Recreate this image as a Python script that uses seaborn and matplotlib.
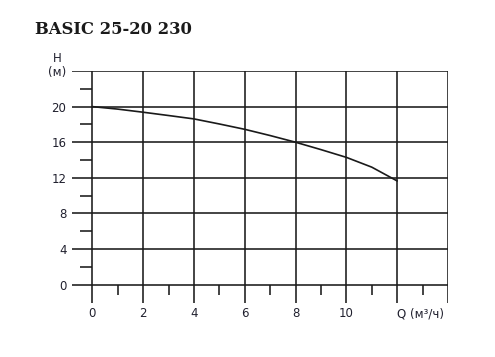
import matplotlib
matplotlib.use("Agg")
import matplotlib.pyplot as plt
import seaborn as sns
import pandas as pd

# Data
flow_q = [0, 1, 2, 3, 4, 5, 6, 7, 8, 9, 10, 11, 12]
head_h = [20, 19.72, 19.37, 19.0, 18.62, 18.05, 17.45, 16.75, 16.0, 15.17, 14.3, 13.2, 11.65]
x_major = [0, 2, 4, 6, 8, 10, 12, 14]
x_labels = ["0", "2", "4", "6", "8", "10", "", ""]
y_major = [0, 4, 8, 12, 16, 20, 24]
y_labels = ["0", "4", "8", "12", "16", "20", "(м)"]
x_minor = [1, 3, 5, 7, 9, 11, 13]
y_minor = [2, 6, 10, 14, 18, 22]
title = "BASIC 25-20 230"
x_unit = "Q (м³/ч)"
y_name = "H"

sns.set_style("white")
plt.rcParams["font.family"] = ["DejaVu Sans"]

line_col = "#1a1a1a"
text_col = "#20202e"
xpad = 3.5

fig = plt.figure(figsize=(4.95, 3.57), dpi=100)
ax = fig.add_axes([72 / 495, 1 - 302.5 / 357, (448 - 72) / 495, (302.5 - 71) / 357])

df = pd.DataFrame({"Q": flow_q, "H": head_h})
sns.lineplot(data=df, x="Q", y="H", ax=ax, color=line_col, linewidth=1.2, zorder=5)

ax.set_xlim(-0.8, 14)
ax.set_ylim(-2, 24)
ax.set_xticks(x_major)
ax.set_xticklabels(x_labels)
ax.set_yticks(y_major)
ax.set_yticklabels(y_labels)
ax.tick_params(axis="both", length=0, labelsize=8.5, colors=text_col)
ax.tick_params(axis="x", pad=xpad)
ax.tick_params(axis="y", pad=4)
ax.grid(True, color=line_col, linewidth=1.15)
ax.set_axisbelow(True)
for s in ax.spines.values():
    s.set_visible(False)
ax.set_xlabel("")
ax.set_ylabel("")

# minor tick marks at the zero axes
ax.hlines(y_minor, -0.47, 0, color=line_col, linewidth=1.15)
ax.vlines(x_minor, -1.16, 0, color=line_col, linewidth=1.15)

ax.annotate(x_unit, xy=(12, -2), xycoords="data", xytext=(0, -xpad),
            textcoords="offset points", ha="left", va="top",
            fontsize=8.5, color=text_col)

fig.text(57 / 495, 1 - 58 / 357, y_name, ha="center", va="center",
         fontsize=8.5, color=text_col)
fig.text(35 / 495, 1 - 30 / 357, title, ha="left", va="center",
         fontfamily="DejaVu Serif", fontweight="bold", fontsize=11.8, color="#1a1a1a")

fig.savefig("out.png", dpi=100)
